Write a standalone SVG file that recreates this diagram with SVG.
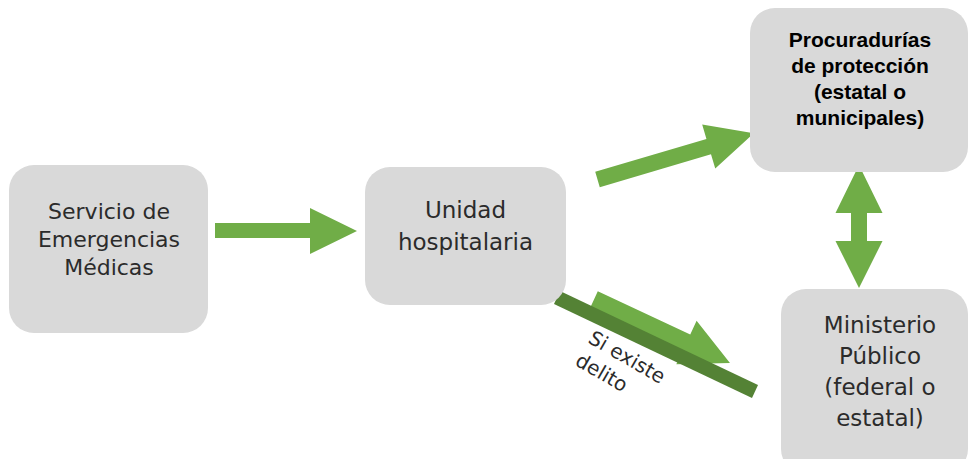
<svg xmlns="http://www.w3.org/2000/svg" width="970" height="459" viewBox="0 0 970 459">
  <style>
    .box { fill: #D9D9D9; }
    .arrow { fill: #70AD47; }
    .bar { fill: #548235; }
    .t { font-family: "DejaVu Sans", "Open Sans", sans-serif; font-size: 23px; fill: #2B2B2B; text-anchor: middle; }
    .s22 { font-size: 22px; }
    .tb { font-family: "Liberation Sans", Arial, sans-serif; font-size: 21px; font-weight: bold; fill: #000000; text-anchor: middle; }
    .lbl { font-family: "DejaVu Sans", "Open Sans", sans-serif; font-size: 20px; fill: #2B2B2B; }
  </style>
  <rect width="970" height="459" fill="#FFFFFF"/>
  <g id="connectors">
    <polygon class="arrow" points="215,223 310,223 310,208 357,231 310,254 310,238 215,238"/>
    <polygon class="arrow" transform="translate(597.5,179.5) rotate(-16.5)" points="0,-8 116,-8 116,-23 163,0 116,23 116,8 0,8"/>
    <polygon class="arrow" transform="translate(594,299.5) rotate(25)" points="0,-9 102,-9 102,-24 150,0 102,24 102,9 0,9"/>
    <polygon class="bar" points="560,291 758,385 752,398 554,304"/>
    <polygon class="arrow" points="859,165 882.5,213 867,213 867,241 882.5,241 859,288 835.5,241 851,241 851,213 835.5,213"/>
    <text class="lbl" transform="translate(587,342) rotate(30)"><tspan x="0" y="0">Si existe</tspan><tspan x="0" y="26">delito</tspan></text>
  </g>
  <g id="node-servicio">
    <rect class="box" x="9" y="165" width="199" height="168" rx="25" ry="25"/>
    <text class="t s22"><tspan x="109" y="219">Servicio de</tspan><tspan x="109" y="247">Emergencias</tspan><tspan x="109" y="275">Médicas</tspan></text>
  </g>
  <g id="node-unidad">
    <rect class="box" x="365" y="167" width="201" height="138" rx="25" ry="25"/>
    <text class="t"><tspan x="465.5" y="218">Unidad</tspan><tspan x="465.5" y="250">hospitalaria</tspan></text>
  </g>
  <g id="node-procuradurias">
    <rect class="box" x="750" y="8" width="218" height="164" rx="25" ry="25"/>
    <text class="tb"><tspan x="860" y="47">Procuradurías</tspan><tspan x="860" y="73">de protección</tspan><tspan x="860" y="99">(estatal o</tspan><tspan x="860" y="125">municipales)</tspan></text>
  </g>
  <g id="node-ministerio">
    <rect class="box" x="781" y="289" width="187" height="185" rx="25" ry="25"/>
    <text class="t"><tspan x="880" y="333">Ministerio</tspan><tspan x="880" y="364">Público</tspan><tspan x="880" y="395">(federal o</tspan><tspan x="880" y="426">estatal)</tspan></text>
  </g>
</svg>
